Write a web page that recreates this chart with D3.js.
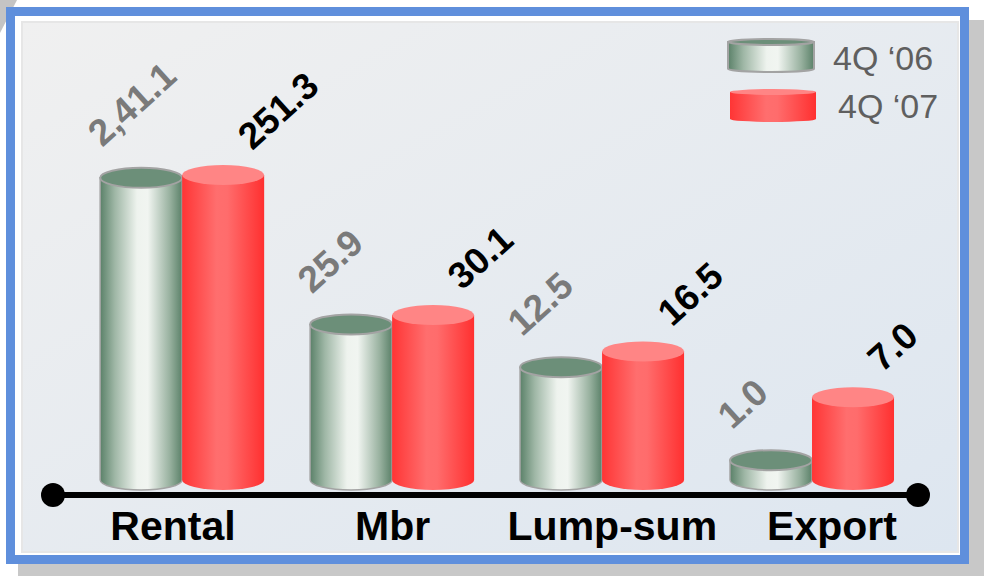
<!DOCTYPE html>
<html>
<head>
<meta charset="utf-8">
<script src="https://cdn.jsdelivr.net/npm/d3@7"></script>
<style>
	body { margin: 0; background: #fff; }
	svg { display: block; font-family: "Liberation Sans", Arial, sans-serif; }
</style>
</head>
<body>
<div id="chart"></div>
<script>

// chart data
var categories = ["Rental", "Mbr", "Lump-sum", "Export"];
var seriesNames = ["4Q \u201806", "4Q \u201807"];
var values06 = [241.1, 25.9, 12.5, 1.0];
var values07 = [251.3, 30.1, 16.5, 7.0];
var labels06 = ["2,41.1", "25.9", "12.5", "1.0"];	// printed as on the slide
var labels07 = ["251.3", "30.1", "16.5", "7.0"];

var width = 986, height = 576;
var baseY = 480;	// centre of the bottom ellipse of every cylinder
var ry = 10;

var svg = d3.select("#chart").append("svg")
	.attr("width", width).attr("height", height);

var defs = svg.append("defs");

function hGradient(id, stops){
	var g = defs.append("linearGradient").attr("id", id)
		.attr("x1", "0%").attr("x2", "100%").attr("y1", "0%").attr("y2", "0%");
	stops.forEach(function(s){
		g.append("stop").attr("offset", s[0]).attr("stop-color", s[1]);
	});
}

hGradient("greyBody", [["0%", "#5b8169"], ["18%", "#9fb7a6"], ["45%", "#eef3ee"], ["58%", "#f1f5f1"], ["85%", "#98b19f"], ["100%", "#5b8169"]]);
hGradient("redBody", [["0%", "#ff3535"], ["42%", "#ff6e6e"], ["55%", "#ff6c6c"], ["100%", "#ff3030"]]);

var bg = defs.append("linearGradient").attr("id", "panelBg")
	.attr("x1", "0%").attr("y1", "0%").attr("x2", "100%").attr("y2", "100%");
bg.append("stop").attr("offset", "0%").attr("stop-color", "#f0f0f0");
bg.append("stop").attr("offset", "100%").attr("stop-color", "#dde6f0");

// frame: shadow, white card, gradient panel, blue border
svg.append("polygon").attr("points", "0,0 17,0 0,33").attr("fill", "#c4c4c4");
svg.append("rect").attr("x", 18).attr("y", 20).attr("width", 966).attr("height", 556).attr("fill", "#c8c8c8");
svg.append("rect").attr("x", 10).attr("y", 11).attr("width", 955).attr("height", 549).attr("fill", "#fff");
svg.append("rect").attr("x", 22).attr("y", 22).attr("width", 936).attr("height", 530)
	.attr("fill", "url(#panelBg)").attr("stroke", "#e6e6e6").attr("stroke-width", 2);
svg.append("rect").attr("x", 10.5).attr("y", 11.5).attr("width", 954).attr("height", 548)
	.attr("fill", "none").attr("stroke", "#5f8fdc").attr("stroke-width", 9);

// scales (the slide's bars are roughly log-like, not linear)
var x0 = d3.scaleBand().domain(categories).range([53, 918]).paddingInner(0).paddingOuter(0.06).align(0.96);
var barW = 82;
var x1 = d3.scaleBand().domain(seriesNames).range([0, 2 * barW]);
var y = d3.scaleSymlog().constant(3).domain([0, 251.3]).range([baseY, baseY - 305]);
var xLabel = d3.scalePoint().domain(categories).range([173, 832]);

function cylinderPath(left, w, top, bottom, r){
	return "M" + left + "," + top +
		"L" + left + "," + bottom +
		"A" + (w / 2) + "," + r + " 0 0 0 " + (left + w) + "," + bottom +
		"L" + (left + w) + "," + top + "Z";
}

var series = [
	{ name: seriesNames[0], values: values06, labels: labels06, body: "url(#greyBody)", top: "#6c8f79", stroke: "#a3a3a3", text: "#7a7a7a" },
	{ name: seriesNames[1], values: values07, labels: labels07, body: "url(#redBody)", top: "#ff8585", stroke: "none", text: "#000" }
];

// axis line with round ends
var ax = x0.range();
svg.append("line").attr("x1", ax[0]).attr("x2", ax[1]).attr("y1", 495).attr("y2", 495)
	.attr("stroke", "#000").attr("stroke-width", 6);
svg.selectAll(".axisDot").data(ax).enter().append("circle")
	.attr("cx", function(d){ return d; }).attr("cy", 495).attr("r", 12).attr("fill", "#000");

// cylinders, grey behind red
series.forEach(function(s, si){
	var g = svg.append("g").attr("class", "series_" + si);
	categories.forEach(function(c, i){
		var left = x0(c) + x0.bandwidth() / 2 - barW + x1(s.name);
		var topY = y(s.values[i]);
		g.append("path")
			.attr("d", cylinderPath(left, barW, topY, baseY, ry))
			.attr("fill", s.body)
			.attr("stroke", s.stroke).attr("stroke-width", 1.5);
		g.append("ellipse")
			.attr("cx", left + barW / 2).attr("cy", topY)
			.attr("rx", barW / 2).attr("ry", ry)
			.attr("fill", s.top)
			.attr("stroke", s.stroke).attr("stroke-width", 2);
	});
});

// rotated value labels
series.forEach(function(s, si){
	categories.forEach(function(c, i){
		var left = x0(c) + x0.bandwidth() / 2 - barW + x1(s.name);
		var topY = y(s.values[i]) - ry;
		var lx = si == 0 ? left + 2 : left + barW - 12;
		var ly = si == 0 ? topY - 20 : topY - 14;
		svg.append("text")
			.attr("transform", "translate(" + lx + "," + ly + ") rotate(-42)")
			.attr("font-size", 37).attr("font-weight", "bold")
			.attr("fill", s.text)
			.text(s.labels[i]);
	});
});

// category labels
svg.selectAll(".catLabel").data(categories).enter().append("text")
	.attr("class", "catLabel")
	.attr("x", function(d){ return xLabel(d); })
	.attr("y", 540)
	.attr("text-anchor", "middle")
	.attr("font-size", 41).attr("font-weight", "bold").attr("fill", "#000")
	.text(function(d){ return d; });

// legend
var legend = svg.append("g").attr("class", "legend");
series.forEach(function(s, si){
	var ly = 42 + si * 50, lx = 728 + si * 2;
	legend.append("path")
		.attr("d", cylinderPath(lx, 86, ly, ly + 27, 3))
		.attr("fill", s.body).attr("stroke", s.stroke).attr("stroke-width", 2);
	legend.append("ellipse")
		.attr("cx", lx + 43).attr("cy", ly).attr("rx", 43).attr("ry", 3)
		.attr("fill", s.top).attr("stroke", s.stroke).attr("stroke-width", 2);
	legend.append("text")
		.attr("x", 833 + si * 5).attr("y", 70 + si * 48)
		.attr("font-size", 34).attr("fill", "#5f5f5f")
		.text(s.name);
});

</script>
</body>
</html>
